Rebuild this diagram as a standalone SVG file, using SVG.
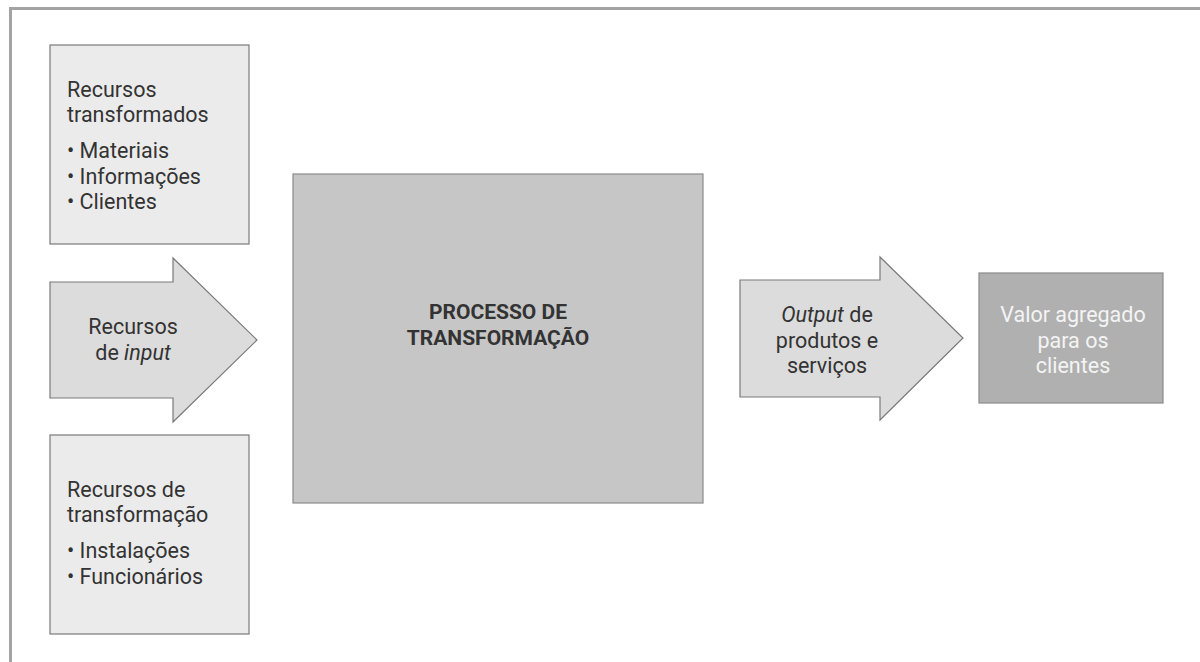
<svg xmlns="http://www.w3.org/2000/svg" width="1200" height="662" viewBox="0 0 1200 662">
<style>
text{font-family:Roboto,"Liberation Sans",sans-serif;font-size:21.5px;fill:#333}
.b{font-weight:bold;font-size:21px}
.c{text-anchor:middle}
.w{fill:#f4f4f4}
.box{fill:#ebebeb;stroke:#7a7a7a;stroke-width:1.2}
.arr{fill:#dcdcdc;stroke:#7a7a7a;stroke-width:1.2}
</style>
<rect width="1200" height="662" fill="#fff"/>
<path d="M10.5,675 V8.5 H1210" fill="none" stroke="#a3a3a3" stroke-width="3"/>
<g id="transformados">
<rect class="box" x="50" y="45" width="199" height="199"/>
<text x="67" y="97">Recursos</text>
<text x="67" y="122">transformados</text>
<text x="67" y="158">• Materiais</text>
<text x="67" y="184">• Informações</text>
<text x="67" y="209">• Clientes</text>
</g>
<g id="input">
<polygon class="arr" points="50,282 173,282 173,258 257,340 173,422 173,398 50,398"/>
<text class="c" x="133" y="334">Recursos</text>
<text class="c" x="133" y="360">de <tspan font-style="italic">input</tspan></text>
</g>
<g id="transformacao">
<rect class="box" x="50" y="435" width="199" height="199"/>
<text x="67" y="497">Recursos de</text>
<text x="67" y="522">transformação</text>
<text x="67" y="558">• Instalações</text>
<text x="67" y="584">• Funcionários</text>
</g>
<g id="processo">
<rect x="293" y="174" width="410" height="329" fill="#c6c6c6" stroke="#8a8a8a" stroke-width="1.2"/>
<text class="c b" x="498" y="319">PROCESSO DE</text>
<text class="c b" x="498" y="345">TRANSFORMAÇÃO</text>
</g>
<g id="output">
<polygon class="arr" points="740,280 880,280 880,257 963,338 880,420 880,397 740,397"/>
<text class="c" x="827" y="322"><tspan font-style="italic">Output</tspan> de</text>
<text class="c" x="827" y="348">produtos e</text>
<text class="c" x="827" y="373">serviços</text>
</g>
<g id="valor">
<rect x="979" y="273" width="184" height="130" fill="#b0b0b0" stroke="#8a8a8a" stroke-width="1.2"/>
<text class="c w" x="1073" y="322">Valor agregado</text>
<text class="c w" x="1073" y="348">para os</text>
<text class="c w" x="1073" y="373">clientes</text>
</g>
<g id="connectors"></g>
</svg>
